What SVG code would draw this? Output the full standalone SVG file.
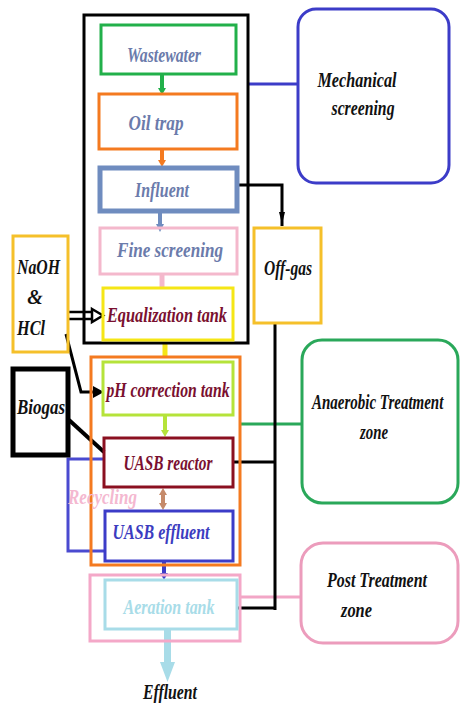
<svg xmlns="http://www.w3.org/2000/svg" width="460" height="703" viewBox="0 0 460 703">
<style>
text{font-family:"Liberation Serif","Times New Roman",serif;font-style:italic;font-weight:bold;font-size:20px}
.box{fill:none}
.blk{fill:none;stroke:#000;stroke-width:3}
</style>
<rect width="460" height="703" fill="#fff"/>

<g id="connectors">
  <!-- zone links -->
  <line x1="248" y1="84" x2="298" y2="84" stroke="#3c3cc8" stroke-width="3"/>
  <line x1="240" y1="424" x2="302" y2="424" stroke="#2aa85a" stroke-width="3"/>
  <line x1="240" y1="597" x2="301" y2="597" stroke="#f2a6c6" stroke-width="3"/>
  <!-- influent to off-gas -->
  <path d="M237,185 H282 V226" class="blk"/>
  <path d="M279,212 L282,224 L285,212 z" fill="#000"/>
  <!-- off-gas return line -->
  <path d="M275,323 V610 M233,462 H275 M237,608 H275" class="blk"/>
  <!-- chemical dosing -->
  <path d="M68,312 H96 M68,319 H96" stroke="#000" stroke-width="2.5" fill="none"/>
  <path d="M92,309 L103,315.5 L92,322 z" fill="#fff" stroke="#000" stroke-width="2.5"/>
  <path d="M66,334 L81,392 H96" class="blk" stroke-width="4"/>
  <path d="M93,386 L104,392 L93,398 z" fill="#000"/>
  <!-- biogas -->
  <line x1="69" y1="420" x2="104" y2="452" stroke="#000" stroke-width="4"/>
  <!-- vertical flow connectors -->
  <line x1="162" y1="75" x2="162" y2="90" stroke="#22b04a" stroke-width="4"/>
  <path d="M158,88 L162,95 L166,88 z" fill="#22b04a"/>
  <line x1="162" y1="150" x2="162" y2="162" stroke="#f47a20" stroke-width="4"/>
  <path d="M158,160 L162,167 L166,160 z" fill="#f47a20"/>
  <line x1="160" y1="213" x2="160" y2="226" stroke="#6f8cbf" stroke-width="4"/>
  <path d="M156,224 L160,232 L164,224 z" fill="#6f8cbf"/>
  <line x1="162" y1="275" x2="162" y2="288" stroke="#f4b8cc" stroke-width="5"/>
  <line x1="165" y1="343" x2="165" y2="358" stroke="#f5e616" stroke-width="5"/>
  <line x1="165" y1="416" x2="165" y2="432" stroke="#b5e33a" stroke-width="4"/>
  <path d="M161,430 L165,437 L169,430 z" fill="#b5e33a"/>
  <line x1="163" y1="493" x2="163" y2="505" stroke="#c58a6a" stroke-width="4"/>
  <path d="M159,495 L163,488 L167,495 z M159,503 L163,510 L167,503 z" fill="#c58a6a"/>
  <line x1="164" y1="562" x2="164" y2="575" stroke="#3c3cc8" stroke-width="4"/>
  <path d="M160,573 L164,580 L168,573 z" fill="#3c3cc8"/>
  <!-- effluent outlet -->
  <rect x="164" y="630" width="7" height="36" fill="#a8dce8"/>
  <path d="M160,662 L167.5,682 L175,662 z" fill="#a8dce8"/>
  <!-- recycling loop -->
  <path d="M103,459 H68 V551 H105" fill="none" stroke="#4a4ad0" stroke-width="3"/>
</g>

<g id="group-mechanical">
  <rect x="84" y="15" width="164" height="328" class="blk"/>
</g>
<g id="group-anaerobic">
  <rect x="91" y="357" width="149" height="208" class="box" stroke="#f47a20" stroke-width="3"/>
</g>
<g id="group-post">
  <rect x="90" y="575" width="150" height="66" class="box" stroke="#f4a8c8" stroke-width="3"/>
</g>

<g id="wastewater">
  <rect x="101" y="25" width="135" height="49" class="box" stroke="#22b04a" stroke-width="3"/>
  <text x="164" y="62" text-anchor="middle" fill="#6b7bab" textLength="74" lengthAdjust="spacingAndGlyphs">Wastewater</text>
</g>
<g id="oil-trap">
  <rect x="99" y="94" width="138" height="55" class="box" stroke="#f47a20" stroke-width="3"/>
  <text x="156" y="130" text-anchor="middle" fill="#6b7bab" textLength="55" lengthAdjust="spacingAndGlyphs">Oil trap</text>
</g>
<g id="influent">
  <rect x="100" y="168" width="137" height="43" class="box" stroke="#6f8cbf" stroke-width="5"/>
  <text x="162" y="197" text-anchor="middle" fill="#6b7bab" textLength="54" lengthAdjust="spacingAndGlyphs">Influent</text>
</g>
<g id="fine-screening">
  <rect x="100" y="228" width="137" height="46" class="box" stroke="#f4b8cc" stroke-width="3"/>
  <text x="170" y="257" text-anchor="middle" fill="#6b7bab" textLength="106" lengthAdjust="spacingAndGlyphs">Fine screening</text>
</g>
<g id="equalization-tank">
  <rect x="103" y="288" width="130" height="52" class="box" stroke="#f5e616" stroke-width="3"/>
  <text x="167" y="322" text-anchor="middle" fill="#7a1030" textLength="120" lengthAdjust="spacingAndGlyphs">Equalization tank</text>
</g>
<g id="naoh-hcl">
  <rect x="13" y="236" width="55" height="116" class="box" stroke="#f5c02a" stroke-width="3"/>
  <text x="17" y="274" fill="#111" textLength="43" lengthAdjust="spacingAndGlyphs">NaOH</text>
  <text x="35" y="304" text-anchor="middle" fill="#111">&amp;</text>
  <text x="17" y="335" fill="#111" textLength="28" lengthAdjust="spacingAndGlyphs">HCl</text>
</g>
<g id="off-gas">
  <rect x="254" y="228" width="67" height="95" class="box" stroke="#f5c02a" stroke-width="3"/>
  <text x="288" y="275" text-anchor="middle" fill="#111" textLength="48" lengthAdjust="spacingAndGlyphs">Off-gas</text>
</g>
<g id="mechanical-screening">
  <rect x="298" y="9" width="151" height="174" rx="18" class="box" stroke="#3c3cc8" stroke-width="3"/>
  <text x="357" y="87" text-anchor="middle" fill="#111" textLength="79" lengthAdjust="spacingAndGlyphs">Mechanical</text>
  <text x="363" y="115" text-anchor="middle" fill="#111" textLength="63" lengthAdjust="spacingAndGlyphs">screening</text>
</g>
<g id="ph-correction-tank">
  <rect x="103" y="362" width="130" height="53" class="box" stroke="#b5e33a" stroke-width="3"/>
  <text x="168" y="397" text-anchor="middle" fill="#7a1030" textLength="123" lengthAdjust="spacingAndGlyphs">pH correction tank</text>
</g>
<g id="biogas">
  <rect x="13" y="369" width="55" height="86" class="box" stroke="#000" stroke-width="5"/>
  <text x="41" y="414" text-anchor="middle" fill="#111" font-size="21" textLength="48" lengthAdjust="spacingAndGlyphs">Biogas</text>
</g>
<g id="uasb-reactor">
  <rect x="104" y="438" width="129" height="49" class="box" stroke="#8b1020" stroke-width="3"/>
  <text x="168" y="470" text-anchor="middle" fill="#7a1030" textLength="89" lengthAdjust="spacingAndGlyphs">UASB reactor</text>
</g>
<g id="recycling">
  <text x="68" y="504" fill="#f4b8d0" textLength="69" lengthAdjust="spacingAndGlyphs">Recycling</text>
</g>
<g id="uasb-effluent">
  <rect x="105" y="511" width="128" height="50" class="box" stroke="#3c3cc8" stroke-width="3"/>
  <text x="161" y="539" text-anchor="middle" fill="#3c3cc0" textLength="97" lengthAdjust="spacingAndGlyphs">UASB effluent</text>
</g>
<g id="aeration-tank">
  <rect x="105" y="580" width="132" height="49" class="box" stroke="#a8dce8" stroke-width="3"/>
  <text x="169" y="614" text-anchor="middle" fill="#a8dce8" textLength="91" lengthAdjust="spacingAndGlyphs">Aeration tank</text>
</g>
<g id="effluent">
  <text x="170" y="699" text-anchor="middle" fill="#111" textLength="54" lengthAdjust="spacingAndGlyphs">Effluent</text>
</g>
<g id="anaerobic-zone">
  <rect x="302" y="340" width="156" height="163" rx="20" class="box" stroke="#2aa85a" stroke-width="3"/>
  <text transform="translate(312 409) scale(0.75 1)" fill="#111">Anaerobic Treatment</text>
  <text x="360" y="439" fill="#111" textLength="28" lengthAdjust="spacingAndGlyphs">zone</text>
</g>
<g id="post-treatment-zone">
  <rect x="301" y="543" width="157" height="100" rx="22" class="box" stroke="#ec9cbc" stroke-width="3"/>
  <text x="327" y="587" fill="#111" textLength="100" lengthAdjust="spacingAndGlyphs">Post Treatment</text>
  <text x="341" y="617" fill="#111" textLength="31" lengthAdjust="spacingAndGlyphs">zone</text>
</g>
</svg>
